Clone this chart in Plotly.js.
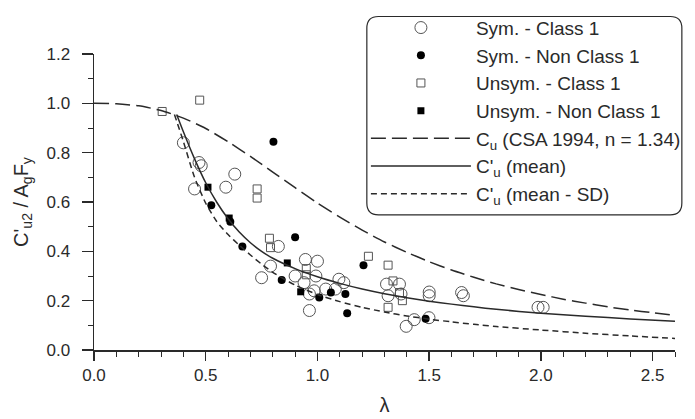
<!DOCTYPE html>
<html>
<head>
<meta charset="utf-8">
<script src="https://cdn.plot.ly/plotly-3.0.1.min.js"></script>
<style>
  html, body { margin: 0; padding: 0; background: #fff; }
  #chart { width: 695px; height: 419px; }
</style>
</head>
<body>
<div id="chart"></div>
<script>
// Test results: normalised strength vs slenderness
const symClass1Lambda = [0.40, 0.47, 0.48, 0.45, 0.59, 0.63, 0.825, 0.79, 0.75, 0.90, 0.946, 1.00, 0.993, 0.94, 0.964, 0.985, 0.964, 1.037, 1.096, 1.118, 1.08, 1.309, 1.367, 1.316, 1.374, 1.397, 1.433, 1.499, 1.50, 1.50, 1.645, 1.653, 1.987, 2.01];
const symClass1Value  = [0.84, 0.76, 0.747, 0.653, 0.66, 0.713, 0.42, 0.34, 0.293, 0.30, 0.367, 0.36, 0.30, 0.273, 0.227, 0.24, 0.16, 0.247, 0.287, 0.273, 0.247, 0.267, 0.267, 0.22, 0.227, 0.096, 0.123, 0.131, 0.235, 0.22, 0.233, 0.22, 0.173, 0.173];

const symNonClass1Lambda = [0.525, 0.61, 0.664, 0.803, 0.84, 0.90, 1.008, 1.06, 1.125, 1.133, 1.206, 1.484];
const symNonClass1Value  = [0.587, 0.52, 0.42, 0.844, 0.284, 0.457, 0.213, 0.233, 0.227, 0.149, 0.344, 0.127];

const unsymClass1Lambda = [0.305, 0.473, 0.73, 0.73, 0.785, 0.79, 0.95, 0.95, 1.228, 1.316, 1.338, 1.367, 1.38, 1.316];
const unsymClass1Value  = [0.967, 1.013, 0.653, 0.616, 0.453, 0.415, 0.33, 0.305, 0.38, 0.344, 0.28, 0.233, 0.20, 0.173];

const unsymNonClass1Lambda = [0.51, 0.605, 0.865, 0.925];
const unsymNonClass1Value  = [0.66, 0.535, 0.353, 0.236];

// Design curves
const csaLambda = [0, 0.1, 0.2, 0.3, 0.4, 0.5, 0.6, 0.7, 0.8, 0.9, 1.0, 1.1, 1.2, 1.3, 1.4, 1.5, 1.6, 1.7, 1.8, 1.9, 2.0, 2.1, 2.2, 2.3, 2.4, 2.5, 2.6];
const csaValue  = [1.0, 0.998, 0.990, 0.971, 0.940, 0.898, 0.844, 0.785, 0.721, 0.658, 0.596, 0.539, 0.486, 0.438, 0.396, 0.358, 0.324, 0.295, 0.268, 0.245, 0.225, 0.206, 0.190, 0.175, 0.162, 0.151, 0.140];

const meanLambda = [0.37, 0.40, 0.45, 0.50, 0.55, 0.60, 0.65, 0.70, 0.75, 0.80, 0.90, 1.00, 1.10, 1.20, 1.30, 1.40, 1.50, 1.60, 1.70, 1.80, 2.00, 2.20, 2.40, 2.60];
const meanValue  = [0.955, 0.885, 0.775, 0.678, 0.598, 0.532, 0.478, 0.435, 0.400, 0.372, 0.330, 0.297, 0.270, 0.247, 0.228, 0.212, 0.198, 0.186, 0.175, 0.165, 0.149, 0.137, 0.126, 0.117];

const meanSdLambda = [0.36, 0.40, 0.45, 0.50, 0.55, 0.60, 0.65, 0.70, 0.75, 0.80, 0.90, 1.00, 1.10, 1.20, 1.30, 1.40, 1.50, 1.60, 1.70, 1.80, 2.00, 2.20, 2.40, 2.60];
const meanSdValue  = [0.955, 0.845, 0.700, 0.595, 0.520, 0.468, 0.425, 0.385, 0.348, 0.315, 0.263, 0.225, 0.196, 0.173, 0.154, 0.138, 0.125, 0.114, 0.104, 0.095, 0.081, 0.068, 0.057, 0.047];

const FONT = 'Arial, "Liberation Sans", sans-serif';
const INK = '#2a2a2a';

const traces = [
  {
    x: symClass1Lambda, y: symClass1Value, type: 'scatter', mode: 'markers',
    name: 'Sym. - Class 1',
    marker: { symbol: 'circle-open', size: 12, color: '#555', line: { width: 1 } }
  },
  {
    x: symNonClass1Lambda, y: symNonClass1Value, type: 'scatter', mode: 'markers',
    name: 'Sym. - Non Class 1',
    marker: { symbol: 'circle', size: 8, color: '#000' }
  },
  {
    x: unsymClass1Lambda, y: unsymClass1Value, type: 'scatter', mode: 'markers',
    name: 'Unsym. - Class 1',
    marker: { symbol: 'square-open', size: 8, color: '#555', line: { width: 1 } }
  },
  {
    x: unsymNonClass1Lambda, y: unsymNonClass1Value, type: 'scatter', mode: 'markers',
    name: 'Unsym. - Non Class 1',
    marker: { symbol: 'square', size: 7, color: '#000' }
  },
  {
    x: csaLambda, y: csaValue, type: 'scatter', mode: 'lines',
    name: 'C<sub>u</sub> (CSA 1994, n = 1.34)',
    line: { color: INK, width: 1.5, dash: '15px,6px', shape: 'spline', smoothing: 0.6 }
  },
  {
    x: meanLambda, y: meanValue, type: 'scatter', mode: 'lines',
    name: "C'<sub>u</sub> (mean)",
    line: { color: INK, width: 1.5, shape: 'spline', smoothing: 0.6 }
  },
  {
    x: meanSdLambda, y: meanSdValue, type: 'scatter', mode: 'lines',
    name: "C'<sub>u</sub> (mean - SD)",
    line: { color: INK, width: 1.5, dash: '6px,4px', shape: 'spline', smoothing: 0.6 }
  }
];

// Rounded frame around the legend (paper coordinates)
function roundedRect(x0, y0, x1, y1, rx, ry) {
  return 'M' + (x0 + rx) + ',' + y1 +
    ' L' + (x1 - rx) + ',' + y1 +
    ' Q' + x1 + ',' + y1 + ' ' + x1 + ',' + (y1 - ry) +
    ' L' + x1 + ',' + (y0 + ry) +
    ' Q' + x1 + ',' + y0 + ' ' + (x1 - rx) + ',' + y0 +
    ' L' + (x0 + rx) + ',' + y0 +
    ' Q' + x0 + ',' + y0 + ' ' + x0 + ',' + (y0 + ry) +
    ' L' + x0 + ',' + (y1 - ry) +
    ' Q' + x0 + ',' + y1 + ' ' + (x0 + rx) + ',' + y1 + ' Z';
}

const layout = {
  width: 695, height: 419,
  margin: { l: 94, r: 9, t: 50, b: 69 },
  paper_bgcolor: '#fff', plot_bgcolor: '#fff',
  font: { family: FONT, size: 17, color: INK },
  showlegend: true,
  legend: {
    x: 0.468, y: 1.153, xanchor: 'left', yanchor: 'top',
    bgcolor: 'rgba(0,0,0,0)', borderwidth: 0,
    itemwidth: 100, tracegroupgap: 0,
    font: { family: FONT, size: 19, color: INK }
  },
  xaxis: {
    range: [0, 2.6], dtick: 0.5, tick0: 0, tickformat: '.1f',
    showgrid: false, zeroline: false,
    showline: true, linecolor: INK, linewidth: 1.5,
    ticks: 'outside', ticklen: 9, tickwidth: 1.5, tickcolor: INK,
    minor: { dtick: 0.1, ticks: 'outside', ticklen: 5, tickwidth: 1, tickcolor: INK },
    tickfont: { family: FONT, size: 17, color: INK },
    title: { text: 'λ', font: { family: FONT, size: 20, color: INK }, standoff: 14 }
  },
  yaxis: {
    range: [0, 1.2], dtick: 0.2, tick0: 0, tickformat: '.1f',
    showgrid: false, zeroline: false,
    showline: true, linecolor: INK, linewidth: 1.5,
    ticks: 'outside', ticklen: 11, tickwidth: 1.5, tickcolor: INK,
    ticklabelstandoff: 8,
    minor: { dtick: 0.1, ticks: 'outside', ticklen: 5, tickwidth: 1, tickcolor: INK },
    tickfont: { family: FONT, size: 17, color: INK },
    title: { text: "C'<sub>u2</sub> / A<sub>g</sub>F<sub>y</sub>", font: { family: FONT, size: 20, color: INK }, standoff: 12 }
  },
  shapes: [{
    type: 'path', xref: 'paper', yref: 'paper',
    path: roundedRect(0.4696, 0.4567, 1.0118, 1.1267, 0.02, 0.04),
    line: { color: INK, width: 1.2 }, fillcolor: 'rgba(0,0,0,0)', layer: 'above'
  }]
};

Plotly.newPlot('chart', traces, layout, { displayModeBar: false, staticPlot: true });
</script>
</body>
</html>
